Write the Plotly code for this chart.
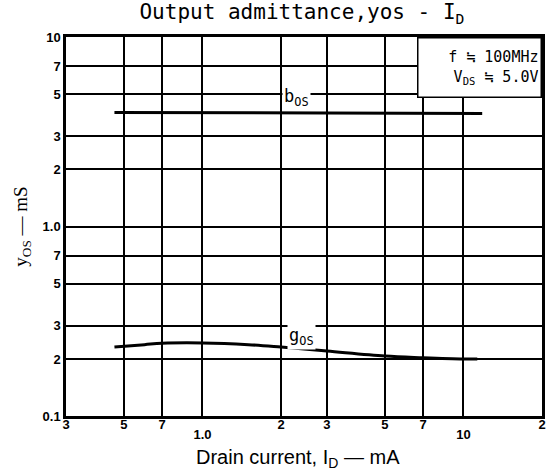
import math
import plotly.graph_objects as go

# Data (drain current in mA, admittance in mS)
id_bos = [0.46, 1.0, 3.0, 11.8]
bos = [4.0, 4.0, 3.97, 3.95]

id_gos = [0.46, 0.6, 0.7, 1.0, 1.5, 2.0, 3.0, 5.0, 7.0, 10.0, 11.3]
gos = [0.231, 0.238, 0.242, 0.243, 0.238, 0.231, 0.220, 0.207, 0.203, 0.200, 0.200]

# tick labels: the decade labels (1.0, 10) sit a row lower on the original
x_ticks = [0.3, 0.5, 0.7, 2, 3, 5, 7, 20]
x_labels = ["3", "5", "7", "2", "3", "5", "7", "2"]
x_ticks_low = [1.0, 10]
x_labels_low = ["1.0", "10"]
y_ticks = [0.1, 0.2, 0.3, 0.5, 0.7, 1.0, 2, 3, 5, 7, 10]
y_labels = ["0.1", "2", "3", "5", "7", "1.0", "2", "3", "5", "7", "10"]

x_range = [math.log10(0.3), math.log10(20)]
y_range = [math.log10(0.1), math.log10(10)]

fig = go.Figure()
fig.add_trace(go.Scatter(x=id_bos, y=bos, mode="lines",
                         line=dict(color="black", width=3), showlegend=False))
fig.add_trace(go.Scatter(x=id_gos, y=gos, mode="lines", line_shape="spline",
                         line=dict(color="black", width=3), showlegend=False))
# invisible trace carrying the lower tick row
fig.add_trace(go.Scatter(x=x_ticks_low, y=[1, 1], xaxis="x2", mode="markers",
                         marker=dict(opacity=0), hoverinfo="skip", showlegend=False))

label_font = dict(family="DejaVu Sans Mono", size=17, color="black")
fig.add_annotation(x=math.log10(2.3), y=math.log10(4.8), xref="x", yref="y",
                   text="b<sub>OS</sub>", showarrow=False, bgcolor="white",
                   font=label_font)
fig.add_annotation(x=math.log10(2.4), y=math.log10(0.262), xref="x", yref="y",
                   text="g<sub>OS</sub>", showarrow=False, bgcolor="white",
                   font=label_font)
# conditions box
fig.add_annotation(x=1, y=1, xref="x domain", yref="y domain",
                   xanchor="right", yanchor="top", align="right",
                   text="f ≒ 100MHz<br>V<sub>DS</sub> ≒ 5.0V", showarrow=False,
                   bgcolor="white", bordercolor="black", borderwidth=1.5,
                   borderpad=2, width=118, height=54,
                   font=dict(family="DejaVu Sans Mono", size=15, color="black"))
# x axis title
fig.add_annotation(x=0.487, y=0, xref="paper", yref="paper", yshift=-42,
                   xanchor="center", yanchor="middle", showarrow=False,
                   text="Drain current, I<sub>D</sub> — mA",
                   font=dict(family="Liberation Sans", size=20, color="black"))

tick_font = dict(family="Liberation Sans", size=13, color="black", weight="bold")
fig.update_layout(
    width=554, height=472,
    margin=dict(l=66, r=12, t=37, b=56),
    paper_bgcolor="white", plot_bgcolor="white",
    title=dict(text="Output admittance,yos - I<sub>D</sub>", x=0.545, y=0.99,
               xanchor="center", yanchor="top",
               font=dict(family="DejaVu Sans Mono", size=21, color="black")),
    xaxis=dict(type="log", range=x_range, tickvals=x_ticks,
               ticktext=x_labels, showgrid=True, gridcolor="black", gridwidth=1.5,
               showline=True, linecolor="black", linewidth=2.5, mirror=True,
               ticks="", automargin=False, tickfont=tick_font, zeroline=False,
               ticklabelstandoff=-5),
    xaxis2=dict(type="log", range=x_range, overlaying="x", side="bottom",
                tickvals=x_ticks_low, ticktext=x_labels_low, showgrid=True,
                gridcolor="black", gridwidth=1.5, ticks="", automargin=False,
                tickfont=tick_font, zeroline=False, ticklabelstandoff=9),
    yaxis=dict(type="log", range=y_range, tickvals=y_ticks, ticktext=y_labels,
               showgrid=True, gridcolor="black", gridwidth=1.5,
               showline=True, linecolor="black", linewidth=2.5, mirror=True,
               ticks="", automargin=False, tickfont=tick_font, zeroline=False,
               title=dict(text="y<sub>OS</sub> — mS", standoff=10,
                          font=dict(family="Liberation Serif", size=19, color="black"))),
)

fig.write_html("out.html", config={"displayModeBar": False},
               post_script="document.body.style.margin='0';")
